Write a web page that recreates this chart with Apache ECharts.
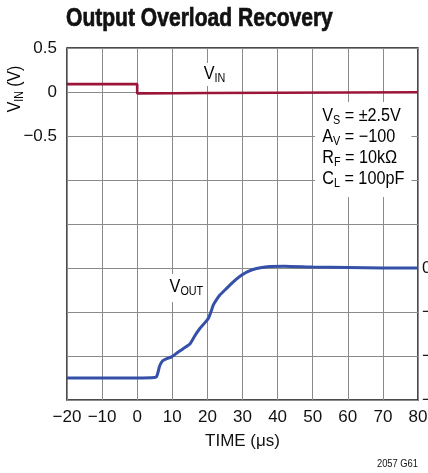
<!DOCTYPE html>
<html><head><meta charset="utf-8">
<script src="https://cdn.jsdelivr.net/npm/echarts@6/dist/echarts.min.js"></script>
<style>html,body{margin:0;padding:0;background:#fff}#c{width:428px;height:473px}</style>
</head><body><div id="c"></div>
<script>
// ---- data ----
const timeTicks = [-20, -10, 0, 10, 20, 30, 40, 50, 60, 70, 80];
const vinTime   = [-20, 0, 0, 10, 20, 40, 60, 80];
const vinValues = [0.09, 0.09, -0.016, -0.014, -0.012, -0.008, -0.005, -0.003];
const voutTime   = [-20, -10, 0, 5, 5.5, 5.9, 6.3, 6.8, 7.4, 8.5, 9.8, 11.5, 13, 15, 16.5, 17.9, 19, 20.3, 21, 21.7, 22.6, 23.6, 25, 26.4, 28, 29.8, 31.5, 34, 37, 42, 50, 60, 70, 80];
const voutValues = [-2.5, -2.5, -2.5, -2.49, -2.47, -2.38, -2.25, -2.16, -2.1, -2.06, -2.02, -1.92, -1.84, -1.73, -1.53, -1.37, -1.27, -1.14, -1.0, -0.84, -0.72, -0.61, -0.5, -0.39, -0.27, -0.16, -0.08, -0.01, 0.03, 0.04, 0.02, 0.01, 0.0, 0.0];
const leftTickLabels  = ['0.5', '0', '−0.5'];
const rightTickLabels = ['0', '−1', '−2', '−3'];
const notes = [['V', 'S', ' = ±2.5V'], ['A', 'V', ' = −100'], ['R', 'F', ' = 10kΩ'], ['C', 'L', ' = 100pF']];

const FONT = "'Liberation Sans',Arial,sans-serif";
const chart = echarts.init(document.getElementById('c'), null, {renderer: 'canvas'});

function fmtNum(v) {
  const s = (Math.round(v * 10) / 10).toString();
  return s.replace('-', '−');
}
const sub = {fontFamily: FONT, fontSize: 12, lineHeight: 12, verticalAlign: 'bottom', color: '#111'};
const main = {fontFamily: FONT, fontSize: 18, lineHeight: 21, color: '#111'};
const noteText = notes.map(n => `{m|${n[0]}}{s|${n[1]}}{m|${n[2]}}`).join('\n');

chart.setOption({
  animation: false,
  backgroundColor: '#fff',
  grid: {left: 67, right: 10, top: 48, bottom: 73, outerBoundsMode: 'none', containLabel: false,
    show: true, borderColor: '#111', borderWidth: 1.5, backgroundColor: 'transparent'},
  xAxis: {
    type: 'value', min: -20, max: 80, interval: 10,
    axisLine: {show: false}, axisTick: {show: false},
    splitLine: {show: true, lineStyle: {color: '#8a8a8a', width: 1}},
    axisLabel: {margin: 9, fontFamily: FONT, fontSize: 17, color: '#111', showMinLabel: true, showMaxLabel: true, hideOverlap: false,
      formatter: v => timeTicks.includes(v) ? fmtNum(v) : ''},
    name: 'TIME (μs)', nameLocation: 'middle', nameGap: 33,
    nameTextStyle: {fontFamily: FONT, fontSize: 17, color: '#111'}
  },
  yAxis: [{
    type: 'value', min: -3.5, max: 0.5, interval: 0.5,
    axisLine: {show: false}, axisTick: {show: false},
    splitLine: {show: true, lineStyle: {color: '#8a8a8a', width: 1}},
    axisLabel: {margin: 10, fontFamily: FONT, fontSize: 17, color: '#111', showMinLabel: true, showMaxLabel: true,
      formatter: v => leftTickLabels.includes(fmtNum(v)) ? fmtNum(v) : ''}
  }, {
    type: 'value', position: 'right', min: -3, max: 5, interval: 1,
    axisLine: {show: false}, axisTick: {show: false}, splitLine: {show: false},
    axisLabel: {margin: 4, fontFamily: FONT, fontSize: 17, color: '#111', align: 'left', showMinLabel: true,
      formatter: v => rightTickLabels.includes(fmtNum(v)) ? fmtNum(v) : ''}
  }],
  series: [{
    type: 'line', yAxisIndex: 0, showSymbol: false, symbol: 'none',
    data: vinTime.map((t, i) => [t, vinValues[i]]),
    lineStyle: {color: '#9a1538', width: 2.6}, z: 3
  }, {
    type: 'line', yAxisIndex: 1, showSymbol: false, symbol: 'none', smooth: 0.15,
    data: voutTime.map((t, i) => [t, voutValues[i]]),
    lineStyle: {color: '#3550a8', width: 3}, z: 3
  }],
  graphic: [
    {type: 'text', x: 66, y: 6, scaleX: 0.81, style: {
      text: 'Output Overload Recovery', fontFamily: FONT, fontSize: 26, fontWeight: 'bold', fill: '#111',
      stroke: '#111', lineWidth: 0.7, align: 'left', verticalAlign: 'top'}},
    {type: 'text', x: 201, y: 63, z: 50, scaleX: 0.9, style: {
      text: '{m|V}{s|IN}', rich: {m: main, s: sub}, backgroundColor: '#fff', padding: [1, 3, 1, 3], align: 'left', verticalAlign: 'top'}},
    {type: 'text', x: 166, y: 274, z: 50, scaleX: 0.9, style: {
      text: '{m|V}{s|OUT}', rich: {m: main, s: sub}, backgroundColor: '#fff', padding: [3, 4, 4, 4], align: 'left', verticalAlign: 'top'}},
    {type: 'text', x: 315, y: 102, z: 50, scaleX: 0.9, style: {
      text: noteText, rich: {m: main, s: sub}, backgroundColor: '#fff', padding: [4, 8, 7, 8], align: 'left', verticalAlign: 'top'}},
    {type: 'text', x: 15, y: 89, rotation: Math.PI / 2, scaleX: 0.88, z: 50, style: {
      text: '{m|V}{s|IN}{m| (V)}', rich: {m: main, s: sub}, align: 'center', verticalAlign: 'middle'}},
    {type: 'text', x: 418, y: 458, scaleX: 0.85, style: {
      text: '2057 G61', fontFamily: FONT, fontSize: 11, fill: '#111', align: 'right', verticalAlign: 'top'}}
  ]
});
</script></body></html>
